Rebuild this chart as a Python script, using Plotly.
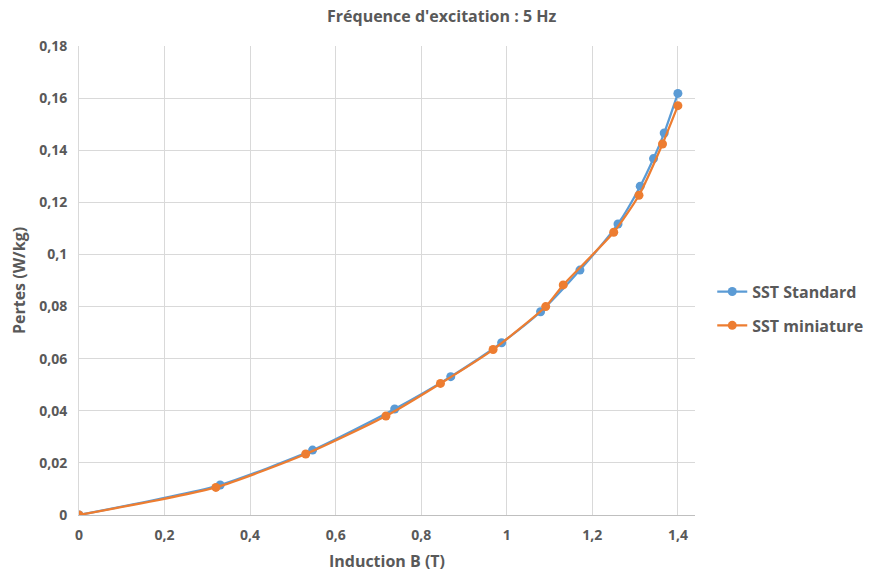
import plotly.graph_objects as go

# Data
std_B = [0, 0.330, 0.546, 0.738, 0.869, 0.988, 1.079, 1.171, 1.260, 1.312, 1.343, 1.368, 1.400]
std_P = [0, 0.0115, 0.0249, 0.0407, 0.0531, 0.0661, 0.0780, 0.0940, 0.1117, 0.1262, 0.1368, 0.1466, 0.1618]

mini_B = [0, 0.320, 0.530, 0.7175, 0.845, 0.968, 1.091, 1.132, 1.250, 1.309, 1.364, 1.400]
mini_P = [0, 0.0106, 0.0234, 0.0380, 0.0505, 0.0635, 0.0800, 0.0883, 0.1085, 0.1227, 0.1424, 0.1571]

series_names = ["SST Standard", "SST miniature"]
title_text = "Fréquence d'excitation : 5 Hz"
x_title = "Induction B (T)"
y_title = "Pertes (W/kg)"

FONT = "Open Sans"
GREY = "#595959"
BLUE = "#5B9BD5"
ORANGE = "#ED7D31"

fig = go.Figure()
fig.add_trace(go.Scatter(
    x=std_B, y=std_P, name=series_names[0], mode="lines+markers", legendgroup="a",
    line=dict(color=BLUE, width=2.25, shape="spline", smoothing=0.6),
    marker=dict(color=BLUE, size=9),
))
fig.add_trace(go.Scatter(
    x=mini_B, y=mini_P, name=series_names[1], mode="lines+markers", legendgroup="b",
    line=dict(color=ORANGE, width=2.25, shape="spline", smoothing=0.6),
    marker=dict(color=ORANGE, size=9),
))

# the page has an 8px body margin, so the figure is sized 866x566
fig.update_layout(
    width=866, height=566,
    margin=dict(l=71, r=179, t=38, b=59, autoexpand=False),
    paper_bgcolor="white", plot_bgcolor="white",
    separators=", ",
    font=dict(family=FONT, color=GREY, size=13),
    legend=dict(x=1.028, xanchor="left", y=0.44, yanchor="middle",
                font=dict(family=FONT, size=16, color=GREY, weight="bold"),
                itemwidth=30, tracegroupgap=10, bgcolor="rgba(0,0,0,0)"),
    showlegend=True,
    annotations=[dict(
        text="<b>" + title_text + "</b>", showarrow=False,
        xref="paper", yref="paper", x=(433 - 71) / 616, y=1 + 30 / 469,
        xanchor="center", yanchor="middle",
        font=dict(family=FONT, size=16, color=GREY),
    )],
)

fig.update_xaxes(
    range=[0, 1.44], dtick=0.2, tick0=0, automargin=False,
    showgrid=True, gridcolor="#D9D9D9", gridwidth=1,
    zeroline=False, showline=True, linecolor="#BFBFBF", linewidth=1,
    ticks="", ticklabelstandoff=7,
    tickfont=dict(family=FONT, size=14, color=GREY, weight="bold"),
    title=dict(text="<b>" + x_title + "</b>", standoff=13,
               font=dict(family=FONT, size=16, color=GREY)),
)
fig.update_yaxes(
    range=[0, 0.18], dtick=0.02, tick0=0, automargin=False,
    showgrid=True, gridcolor="#D9D9D9", gridwidth=1,
    zeroline=False, showline=True, linecolor="#D9D9D9", linewidth=1,
    ticks="", ticklabelstandoff=8,
    tickfont=dict(family=FONT, size=14, color=GREY, weight="bold"),
    title=dict(text="<b>" + y_title + "</b>", standoff=10,
               font=dict(family=FONT, size=16, color=GREY)),
)

fig.write_html("out.html")
